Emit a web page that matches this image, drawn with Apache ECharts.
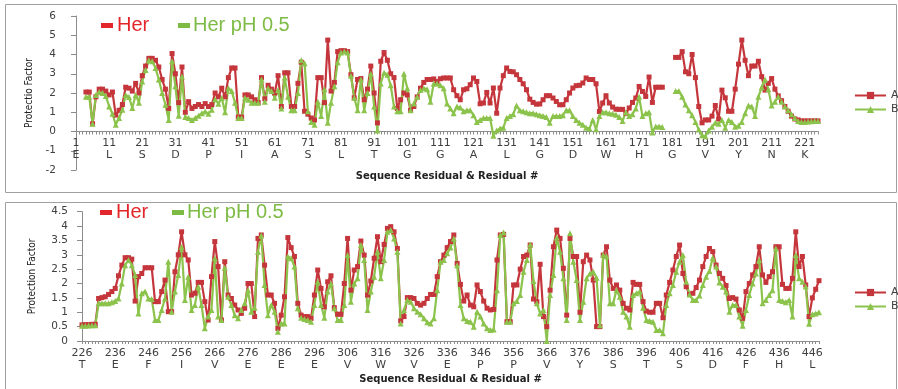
<!DOCTYPE html>
<html>
<head>
<meta charset="utf-8">
<script src="https://cdn.jsdelivr.net/npm/echarts@6/dist/echarts.min.js"></script>
<style>
  html, body { margin: 0; padding: 0; background: #fff; }
  #chart { width: 898px; height: 389px; }
</style>
</head>
<body>
<div id="chart"></div>
<script>
// residue numbers on the two panels
const topResidues = []
for (let r = 1; r <= 225; r++) topResidues.push(String(r))
const bottomResidues = []
for (let r = 226; r <= 448; r++) bottomResidues.push(String(r))

// one letter under every tenth residue
const topLetters = ['E','L','S','D','P','I','A','S','L','T','G','G','A','L','G','D','W','H','G','V','Y','N','K']
const bottomLetters = ['T','E','F','I','V','E','E','E','V','W','V','E','P','P','V','Y','S','T','S','D','F','H','L']

// panel 1, residues 1-225
const topA = [
  null, null, null, 2.05, 2.05, 0.4, 1.8, 2.2, 2.2, 2.1,
  1.9, 2.05, 0.85, 1.1, 1.4, 2.3, 2.25, 2.1, 2.5, 2.0,
  2.9, 3.4, 3.8, 3.8, 3.7, 3.35, 2.7, 2.2, 1.2, 4.05,
  3.0, 1.5, 3.35, 1.0, 1.55, 1.2, 1.3, 1.4, 1.3, 1.45,
  1.3, 1.4, 2.0, 1.8, 2.25, 1.8, 2.8, 3.3, 3.3, 0.75,
  0.75, 1.9, 1.9, 1.8, 1.65, 1.5, 2.8, 1.7, 2.4, 2.2,
  2.0, 2.9, 1.3, 3.05, 3.05, 1.3, 1.3, 2.5, 3.6, 1.05,
  0.9, 0.7, 0.6, 2.8, 2.8, 1.5, 4.75, 2.1, 2.55, 4.15,
  4.2, 4.2, 4.15, 2.95, 1.75, 2.7, 2.75, 1.65, 2.2, 3.4,
  2.0, 0.45, 3.65, 4.1, 3.7, 3.0, 2.8, 1.2, 1.65, 2.0,
  1.9, 1.1, 1.3, 1.8, 2.25, 2.55, 2.7, 2.7, 2.73, 2.6,
  2.74, 2.78, 2.78, 2.78, 2.17, 1.86, 1.65, 2.17, 2.22, 2.43,
  2.78, 2.6, 1.44, 1.48, 2.03, 1.48, 2.26, 0.95, 2.26, 2.9,
  3.3, 3.12, 3.1, 2.95, 2.7, 2.48, 2.17, 1.68, 1.51, 1.42,
  1.43, 1.65, 1.86, 1.86, 1.74, 1.56, 1.39, 1.39, 1.65, 2.0,
  2.26, 2.38, 2.4, 2.52, 2.78, 2.7, 2.7, 2.48, 1.04, 1.48,
  1.86, 1.48, 1.27, 1.16, 1.15, 1.15, 0.95, 1.22, 1.51, 1.74,
  2.34, 2.08, 1.82, 2.83, 1.51, 2.3, 2.3, 2.3, null, null,
  null, 3.85, 3.85, 4.15, 3.1, 3.0, 4.0, 2.8, 1.3, 0.45,
  0.6, 0.6, 0.8, 1.35, 0.65, 2.15, 1.75, 1.05, 1.05, 2.2,
  3.5, 4.75, 3.7, 2.9, 3.4, 3.4, 3.65, 2.85, 2.15, 2.5,
  2.75, 2.2, 1.85, 1.6, 1.3, 1.05, 0.8, 0.65, 0.6, 0.55,
  0.55, 0.55, 0.55, 0.55, 0.55
]
const topB = [
  null, null, null, 1.8, 1.8, 0.4, 1.9, 2.05, 2.0, 1.85,
  1.3, 0.92, 0.35, 0.7, 1.13, 1.9, 1.79, 1.22, 1.9, 1.5,
  2.6, 3.2, 3.7, 3.65, 3.3, 2.7, 2.0, 1.39, 0.6, 3.65,
  2.35, 0.82, 2.86, 0.75, 0.7, 0.6, 0.7, 0.82, 0.95, 1.04,
  0.92, 1.13, 1.68, 1.44, 1.74, 1.0, 2.25, 2.1, 1.5, 0.7,
  0.7, 1.75, 1.65, 1.5, 1.5, 1.5, 2.7, 1.55, 2.25, 2.1,
  1.75, 2.15, 1.2, 2.8, 1.8, 1.1, 1.1, 2.0, 3.7, 3.55,
  1.05, 0.5, 0.35, 1.55, 0.8, 2.2, 0.45, 1.5, 2.35, 3.6,
  4.1, 4.15, 4.1, 2.9, 1.75, 1.1, 2.7, 1.1, 2.0, 3.0,
  1.3, 0.05, 2.5, 3.05, 2.95, 2.4, 1.3, 1.05, 1.05, 3.0,
  2.25, 1.1, 1.45, 1.8, 2.15, 2.25, 2.2, 1.55, 2.5, 2.5,
  2.4, 2.25, 1.45, 1.2, 0.95, 1.3, 1.25, 1.05, 1.1, 1.1,
  0.85, 0.5, 0.6, 0.7, 0.7, 0.7, -0.22, 0.05, 0.15, 0.2,
  0.7, 0.8, 0.9, 1.35, 1.1, 1.05, 1.0, 0.95, 0.95, 0.9,
  0.85, 0.8, 0.75, 0.45, 0.8, 0.8, 0.8, 0.85, 1.1, 1.1,
  0.8, 0.6, 0.45, 0.35, 0.2, 0.15, 0.6, 0.12, 0.8, 1.0,
  1.0, 0.95, 0.92, 0.87, 0.75, 0.55, 1.0, 0.8, 0.9, 1.2,
  1.8, 0.8, 0.95, 1.0, -0.05, 0.26, 0.26, 0.24, null, null,
  null, 2.1, 2.1, 1.8, 1.4, 1.1, 0.85, 0.5, 0.1, -0.2,
  -0.25, 0.05, 0.25, 0.45, 0.4, 0.6, 0.2, 0.6, 0.5, 0.25,
  0.3, 0.5, 0.95, 1.35, 1.3, 0.8, 1.8, 2.3, 2.7, 2.2,
  1.35, 1.55, 1.8, 1.55, 1.3, 1.1, 0.9, 0.7, 0.55, 0.5,
  0.5, 0.52, 0.53, 0.55, 0.55
]

// panel 2, residues 226-448
const bottomA = [
  0.56, 0.57, 0.57, 0.58, 0.58,
  1.48, 1.51, 1.54, 1.62, 1.72, 1.83, 2.27, 2.64, 2.9, 2.9,
  2.85, 1.39, 2.24, 2.35, 2.55, 2.55, 2.55, 1.37, 1.37, 1.72,
  2.12, 1.02, 1.02, 2.41, 3.0, 3.8, 3.0, 2.82, 1.6, 1.66,
  2.04, 2.04, 1.37, 0.73, 2.24, 3.46, 2.59, 0.73, 2.76, 1.6,
  1.48, 1.25, 1.08, 0.96, 1.14, 2.0, 2.0, 0.85, 3.57, 3.69,
  2.64, 1.6, 1.6, 1.31, 0.44, 0.9, 1.54, 3.6, 3.25, 2.94,
  1.31, 0.9, 0.85, 0.85, 0.79, 1.6, 2.47, 1.83, 1.19, 2.06,
  2.27, 1.16, 0.93, 0.93, 2.0, 3.57, 1.77, 2.47, 2.59, 3.48,
  2.99, 1.6, 2.09, 2.88, 3.63, 2.76, 3.36, 3.92, 3.98, 3.8,
  3.22, 0.7, 0.85, 1.51, 1.51, 1.48, 1.31, 1.25, 1.31, 1.48,
  1.62, 1.62, 2.24, 2.76, 2.99, 3.25, 3.46, 3.69, 2.7, 1.97,
  1.39, 1.6, 1.25, 1.19, 1.95, 1.72, 1.39, 1.14, 1.08, 1.1,
  2.82, 3.69, 3.71, 0.67, 0.67, 1.95, 1.95, 2.5, 2.94, 2.99,
  3.34, 1.46, 1.37, 2.67, 0.85, 0.5, 1.77, 3.28, 3.86, 3.57,
  2.53, 0.9, 3.57, 2.94, 2.94, 1.0, 2.76, 2.99, 2.82, 2.12,
  0.5, 0.5, 2.99, 3.28, 2.12, 1.83, 1.95, 1.77, 1.31, 1.14,
  1.08, 2.04, 1.97, 1.97, 1.37, 1.04, 1.0, 1.0, 1.31, 1.31,
  0.81, 1.6, 2.04, 2.47, 2.94, 3.34, 2.35, 1.89, 1.62, 1.66,
  1.86, 2.12, 2.59, 2.94, 3.22, 3.11, 2.64, 2.35, 2.18, 1.93,
  1.48, 1.51, 1.46, 1.08, 0.79, 1.72, 2.0, 2.3, 2.59, 3.28,
  2.3, 2.04, 2.24, 2.41, 3.28, 3.28, 1.97, 1.83, 1.83, 2.18,
  3.8, 2.59, 2.94, 1.95, 0.85, 1.5, 1.8, 2.1
]
const bottomB = [
  0.53, 0.53, 0.54, 0.55, 0.55,
  1.31, 1.31, 1.31, 1.31, 1.35, 1.39, 1.48, 2.0, 2.64, 2.82,
  2.64, 2.3, 0.96, 1.66, 1.72, 1.48, 1.46, 0.73, 0.73, 1.08,
  1.48, 2.76, 1.02, 1.72, 2.3, 3.28, 1.43, 2.24, 1.08, 1.25,
  1.89, 1.25, 0.44, 0.85, 1.08, 2.88, 0.85, 0.73, 2.55, 1.54,
  1.25, 0.9, 0.79, 1.08, 1.31, 1.77, 1.02, 1.16, 3.11, 3.67,
  1.95, 0.9, 1.25, 1.02, 0.32, 0.61, 0.61, 2.94, 2.88, 2.59,
  1.14, 0.81, 0.77, 0.73, 0.67, 1.25, 2.06, 1.25, 0.81, 1.72,
  2.0, 1.14, 0.73, 0.73, 1.25, 2.99, 1.37, 2.0, 2.18, 3.34,
  2.82, 1.08, 1.72, 2.24, 3.11, 2.18, 2.82, 3.8, 3.86, 3.57,
  3.11, 0.61, 1.08, 1.43, 1.37, 1.14, 1.02, 0.93, 0.79, 0.65,
  0.61, 0.79, 1.77, 2.76, 2.82, 3.05, 3.25, 3.57, 2.64, 1.25,
  0.79, 0.7, 0.67, 0.5, 1.02, 0.85, 0.61, 0.44, 0.38, 0.4,
  1.77, 3.69, 3.78, 0.67, 0.67, 1.31, 1.39, 1.6, 2.41, 2.82,
  3.36, 2.09, 1.31, 0.96, 1.08, 0.0, 1.6, 2.3, 3.6, 3.11,
  2.18, 0.73, 3.75, 2.76, 2.12, 0.73, 1.37, 2.18, 2.35, 2.41,
  2.2, 0.55, 3.0, 2.95, 1.31, 1.31, 1.77, 1.54, 1.02, 0.85,
  0.5, 1.6, 1.66, 1.72, 1.16, 0.73, 0.7, 0.67, 0.38, 0.38,
  0.27, 1.25, 1.66, 1.95, 2.41, 2.76, 2.99, 2.06, 1.62, 1.43,
  1.43, 1.58, 1.95, 2.24, 2.44, 2.9, 2.59, 2.04, 1.89, 1.72,
  1.02, 1.25, 1.25, 0.85, 0.53, 1.08, 1.6, 2.0, 2.35, 2.82,
  1.31, 1.43, 1.6, 1.77, 3.22, 1.43, 1.39, 1.35, 1.43, 0.85,
  2.99, 2.18, 2.06, 1.9, 0.6, 0.93, 0.96, 1.0
]

const colorA = '#c4363b'
const colorB = '#8cc34c'
const textColor = '#404040'
const axisColor = '#8c8c8c'
const tickFont = 'DejaVu Sans'
const narrowFont = "'Liberation Sans Narrow', 'DejaVu Sans Condensed', sans-serif"

// the top panel's category axis sits on y = 0, so it is lifted from the grid bottom
function xAxisFor(gridIndex, data, letters, nameGap, lift) {
  return {
    type: 'category',
    gridIndex,
    data,
    boundaryGap: false,
    offset: -lift,
    name: 'Sequence Residual & Residual #',
    nameLocation: 'middle',
    nameGap,
    nameMoveOverlap: false,
    nameTextStyle: { fontFamily: tickFont, fontWeight: 'bold', fontSize: 10, color: '#222' },
    axisLine: { onZero: false, lineStyle: { color: axisColor } },
    axisTick: { interval: 0, length: 3, lineStyle: { color: axisColor } },
    axisLabel: {
      interval: 9,
      fontFamily: tickFont,
      fontSize: 11,
      color: textColor,
      lineHeight: 12,
      margin: 6,
      formatter(val, idx) {
        return val + '\n' + (letters[Math.floor(idx / 10)] || '')
      }
    },
    splitLine: { show: false }
  }
}

function yAxisFor(gridIndex, min, max, interval, name, nameGap, labelMargin) {
  return {
    type: 'value',
    gridIndex,
    min, max, interval,
    name,
    nameLocation: 'middle',
    nameRotate: 90,
    nameGap,
    nameTextStyle: { fontFamily: narrowFont, fontSize: 10, color: '#222' },
    axisLine: { show: true, lineStyle: { color: axisColor } },
    axisTick: { show: true, length: 5, lineStyle: { color: axisColor } },
    axisLabel: { fontFamily: tickFont, fontSize: 10.5, color: textColor, margin: labelMargin },
    splitLine: { show: false }
  }
}

function lineSeries(name, xIdx, data, color, symbol, size) {
  return {
    name,
    type: 'line',
    xAxisIndex: xIdx,
    yAxisIndex: xIdx,
    data,
    symbol,
    symbolSize: size,
    showAllSymbol: true,
    connectNulls: false,
    lineStyle: { color, width: 2.2 },
    itemStyle: { color },
    emphasis: { disabled: true }
  }
}

function overlayLegend(y, redX, greenX) {
  return [
    { type: 'rect', shape: { x: redX, y: y - 2, width: 12, height: 5 }, style: { fill: '#e3262b' } },
    { type: 'text', x: redX + 16, y, style: { text: 'Her', fill: '#e3262b', font: '20px "Liberation Sans", Arial', verticalAlign: 'middle' } },
    { type: 'rect', shape: { x: greenX, y: y - 2, width: 12, height: 5 }, style: { fill: '#7dbb45' } },
    { type: 'text', x: greenX + 15, y, style: { text: 'Her pH 0.5', fill: '#7dbb45', font: '20px "Liberation Sans", Arial', verticalAlign: 'middle' } }
  ]
}

const legendStyle = {
  orient: 'vertical',
  data: ['A', 'B'],
  itemWidth: 31,
  itemHeight: 9,
  itemGap: 3,
  textStyle: { fontFamily: tickFont, fontSize: 11, color: textColor }
}

const myChart = echarts.init(document.getElementById('chart'))
myChart.setOption({
  animation: false,
  grid: [
    { left: 76, top: 16, width: 742, height: 154 },
    { left: 82, top: 211.7, width: 737, height: 129.3 }
  ],
  xAxis: [
    xAxisFor(0, topResidues, topLetters, 40, 38.5),
    xAxisFor(1, bottomResidues, bottomLetters, 33, 0)
  ],
  yAxis: [
    yAxisFor(0, -2, 6, 1, 'Protectio Factor', 39, 20),
    yAxisFor(1, 0, 4.5, 0.5, 'Protection Factor', 45, 14)
  ],
  legend: [
    Object.assign({ left: 849, top: 85 }, legendStyle),
    Object.assign({ left: 849, top: 282 }, legendStyle)
  ],
  series: [
    lineSeries('A', 0, topA, colorA, 'rect', 5),
    lineSeries('B', 0, topB, colorB, 'triangle', 6),
    lineSeries('A', 1, bottomA, colorA, 'rect', 5),
    lineSeries('B', 1, bottomB, colorB, 'triangle', 6)
  ],
  graphic: [
    { type: 'rect', shape: { x: 5.5, y: 4.5, width: 891, height: 188 }, style: { fill: 'none', stroke: '#a0a0a0', lineWidth: 1 } },
    { type: 'rect', shape: { x: 5.5, y: 202.5, width: 891, height: 200 }, style: { fill: 'none', stroke: '#a0a0a0', lineWidth: 1 } }
  ].concat(overlayLegend(25, 101, 178), overlayLegend(212, 100, 172))
})
</script>
</body>
</html>
